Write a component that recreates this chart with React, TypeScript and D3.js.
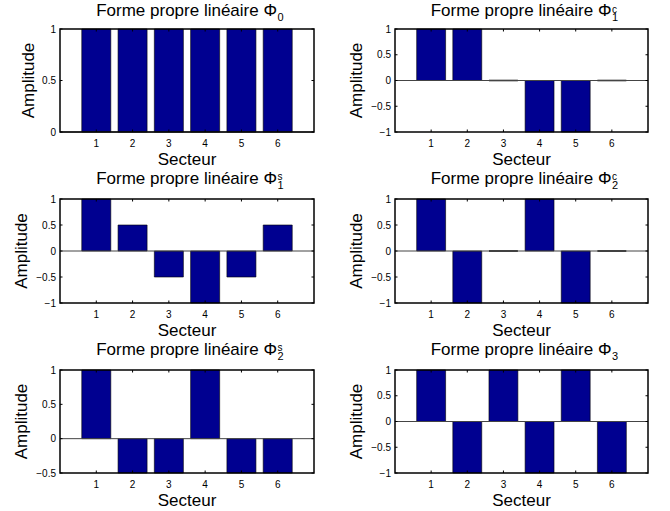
import React from "react";
import * as d3 from "d3";

const sectors = [1, 2, 3, 4, 5, 6];
const phi0 = [1, 1, 1, 1, 1, 1];
const phi1c = [1, 1, 0, -1, -1, 0];
const phi1s = [1, 0.5, -0.5, -1, -0.5, 0.5];
const phi2c = [1, -1, 0, 1, -1, 0];
const phi2s = [1, -0.5, -0.5, 1, -0.5, -0.5];
const phi3 = [1, -1, 1, -1, 1, -1];

const titleMain = "Forme propre linéaire Φ";
const titleSubs = ["0", "1", "1", "2", "2", "3"];
const titleSups = ["", "c", "s", "c", "s", ""];
const yDomains: [number, number][] = [[0, 1], [-1, 1], [-1, 1], [-1, 1], [-0.5, 1], [-1, 1]];
const yTickSets = [
  [0, 0.5, 1],
  [-1, -0.5, 0, 0.5, 1],
  [-1, -0.5, 0, 0.5, 1],
  [-1, -0.5, 0, 0.5, 1],
  [-0.5, 0, 0.5, 1],
  [-1, -0.5, 0, 0.5, 1],
];
const seriesList = [phi0, phi1c, phi1s, phi2c, phi2s, phi3];
const xLabel = "Secteur";
const yLabel = "Amplitude";

const W = 670;
const H = 511;
const cols = [{ l: 60, r: 314 }, { l: 395, r: 648 }];
const rows = [{ t: 29, b: 132, to: 13 }, { t: 199, b: 303, to: 15.5 }, { t: 370, b: 473, to: 15.5 }];
const FONT = "'Liberation Sans', Arial, Helvetica, sans-serif";
const BAR = "#000090";

const fmt = (v: number) => (v < 0 ? "\u2212" + String(-v) : String(v));

function Panel({ idx }: { idx: number }) {
  const c = cols[idx % 2];
  const r = rows[Math.floor(idx / 2)];
  const values = seriesList[idx];
  const x = d3.scaleLinear().domain([0, 7]).range([c.l, c.r]);
  const y = d3.scaleLinear().domain(yDomains[idx]).range([r.b, r.t]);
  const bw = x(0.8) - x(0);
  const tick = 2.5;
  const cx = (c.l + c.r) / 2;
  const ty = r.t - r.to;
  const ylabX = idx === 0 ? c.l - 26 : c.l - 33;
  const bars = values.map((v, i) => {
    const p = d3.path();
    const x0 = x(sectors[i]) - bw / 2;
    const x1 = x(sectors[i]) + bw / 2;
    p.moveTo(x0, y(0));
    p.lineTo(x0, y(v));
    p.lineTo(x1, y(v));
    p.lineTo(x1, y(0));
    p.closePath();
    return p.toString();
  });
  return (
    <g>
      <rect x={c.l} y={r.t} width={c.r - c.l} height={r.b - r.t} fill="#fff" />
      {bars.map((d, i) => (
        <path key={i} d={d} fill={BAR} stroke="#000" strokeWidth={values[i] === 0 ? 1.5 : 0.6} />
      ))}
      <line x1={c.l} x2={c.r} y1={y(0)} y2={y(0)} stroke="#444" strokeWidth={1} />
      {sectors.map((s) => (
        <g key={s}>
          <line x1={x(s)} x2={x(s)} y1={r.b} y2={r.b - tick} stroke="#000" />
          <line x1={x(s)} x2={x(s)} y1={r.t} y2={r.t + tick} stroke="#000" />
          <text x={x(s)} y={r.b + 15} textAnchor="middle" fontSize={10} fontFamily={FONT}>
            {s}
          </text>
        </g>
      ))}
      {yTickSets[idx].map((v) => (
        <g key={v}>
          <line x1={c.l} x2={c.l + tick} y1={y(v)} y2={y(v)} stroke="#000" />
          <line x1={c.r} x2={c.r - tick} y1={y(v)} y2={y(v)} stroke="#000" />
          <text x={c.l - 4} y={y(v) + 3.5} textAnchor="end" fontSize={10} fontFamily={FONT}>
            {fmt(v)}
          </text>
        </g>
      ))}
      <rect x={c.l} y={r.t} width={c.r - c.l} height={r.b - r.t} fill="none" stroke="#000" strokeWidth={1.5} />
      <text x={cx + 90} y={ty} textAnchor="end" fontSize={17} fontFamily={FONT}>
        {titleMain}
      </text>
      {titleSups[idx] && (
        <text x={cx + 90.5} y={ty - 3.5} fontSize={10} fontFamily={FONT}>
          {titleSups[idx]}
        </text>
      )}
      <text x={cx + 90.5} y={ty + 5} fontSize={11} fontFamily={FONT}>
        {titleSubs[idx]}
      </text>
      <text x={cx} y={r.b + 33} textAnchor="middle" fontSize={17} fontFamily={FONT}>
        {xLabel}
      </text>
      <text
        transform={`translate(${ylabX},${(r.t + r.b) / 2}) rotate(-90)`}
        textAnchor="middle"
        fontSize={17}
        fontFamily={FONT}
      >
        {yLabel}
      </text>
    </g>
  );
}

export default function App() {
  return (
    <svg width={W} height={H} style={{ display: "block", position: "absolute", left: 0, top: 0 }}>
      <rect width={W} height={H} fill="#fff" />
      {seriesList.map((_, i) => (
        <Panel key={i} idx={i} />
      ))}
    </svg>
  );
}
